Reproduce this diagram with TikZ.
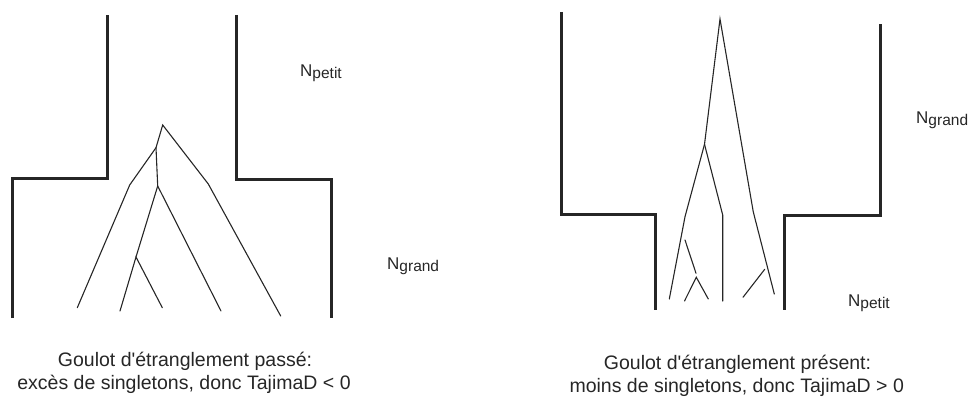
\documentclass[tikz,border=0pt]{standalone}
\usepackage{fontspec}
\setmainfont{Liberation Sans}
\begin{document}
\begin{tikzpicture}[x=1pt,y=-1pt,
  wall/.style={line width=3pt,line join=miter,color=black!85},
  branch/.style={line width=1.1pt,color=black!85,line cap=round},
  caption/.style={inner sep=0pt,anchor=base,font=\fontsize{19.5}{23}\selectfont,text=black!85},
  popl/.style={inner sep=0pt,anchor=base west,font=\fontsize{17}{20}\selectfont,text=black!85}]
\newcommand{\Nsub}[1]{N\raisebox{-2.5pt}{\fontsize{15.5}{18}\selectfont #1}}
\useasboundingbox (0,0) rectangle (968,396);
% ---------- left panel: walls ----------
\coordinate (LWa) at (12,318);
\coordinate (LWb) at (12,178);
\coordinate (LWc) at (107,178);
\coordinate (LWd) at (107,15);
\coordinate (RWa) at (236,15);
\coordinate (RWb) at (236,179);
\coordinate (RWc) at (331,179);
\coordinate (RWd) at (331,318);
\draw[wall] (LWa) -- (LWb) -- (LWc) -- (LWd);
\draw[wall] (RWa) -- (RWb) -- (RWc) -- (RWd);
% ---------- left panel: genealogy ----------
\coordinate (r) at (162.7,125);
\coordinate (a) at (156,147.7);
\coordinate (a1) at (129.7,185);
\coordinate (t1) at (77.3,307.7);
\coordinate (b) at (157.7,186);
\coordinate (c) at (136,257);
\coordinate (t2) at (120,311);
\coordinate (t3) at (162.3,307.7);
\coordinate (t4) at (221,311);
\coordinate (r1) at (208.3,184);
\coordinate (t5) at (280.7,316);
\draw[branch] (t1) -- (a1) -- (a) -- (r) -- (r1) -- (t5);
\draw[branch] (a) -- (b) -- (c);
\draw[branch] (t2) -- (c) -- (t3);
\draw[branch] (b) -- (t4);
% ---------- left panel: labels ----------
\node[popl] (lpetit) at (300,76) {\Nsub{petit}};
\node[popl] (lgrand) at (387,269) {\Nsub{grand}};
\node[caption] (lcap1) at (185,366) {Goulot d\textquotesingle étranglement passé:};
\node[caption] (lcap2) at (184,389) {excès de singletons, donc TajimaD < 0};
% ---------- right panel: walls ----------
\coordinate (LWe) at (561.7,12);
\coordinate (LWf) at (561.7,214);
\coordinate (LWg) at (655.7,214);
\coordinate (LWh) at (655.7,309.5);
\coordinate (RWe) at (784,309.5);
\coordinate (RWf) at (784,215.5);
\coordinate (RWg) at (880.7,215.5);
\coordinate (RWh) at (880.7,24);
\draw[wall] (LWe) -- (LWf) -- (LWg) -- (LWh);
\draw[wall] (RWe) -- (RWf) -- (RWg) -- (RWh);
% ---------- right panel: genealogy ----------
\coordinate (R) at (720,19);
\coordinate (A) at (704.5,144.3);
\coordinate (A1) at (685,216.7);
\coordinate (T1) at (669.3,299);
\coordinate (A2) at (722.7,215);
\coordinate (T4) at (722.7,301);
\coordinate (R1) at (753.3,212);
\coordinate (T6) at (774.3,294);
\coordinate (S1) at (685,240);
\coordinate (S2) at (696,273.3);
\coordinate (V1) at (684.5,301);
\coordinate (V2) at (696.3,277.3);
\coordinate (V3) at (708.3,299);
\coordinate (W1) at (743,297.3);
\coordinate (W2) at (764.7,269.3);
\draw[branch] (T1) -- (A1) -- (A) -- (R) -- (R1) -- (T6);
\draw[branch] (A) -- (A2) -- (T4);
\draw[branch] (S1) -- (S2);
\draw[branch] (V1) -- (V2) -- (V3);
\draw[branch] (W1) -- (W2);
% ---------- right panel: labels ----------
\node[popl] (rgrand) at (916,123) {\Nsub{grand}};
\node[popl] (rpetit) at (848,306) {\Nsub{petit}};
\node[caption] (rcap1) at (737.5,369) {Goulot d\textquotesingle étranglement présent:};
\node[caption] (rcap2) at (736.7,392) {moins de singletons, donc TajimaD > 0};
\end{tikzpicture}
\end{document}
